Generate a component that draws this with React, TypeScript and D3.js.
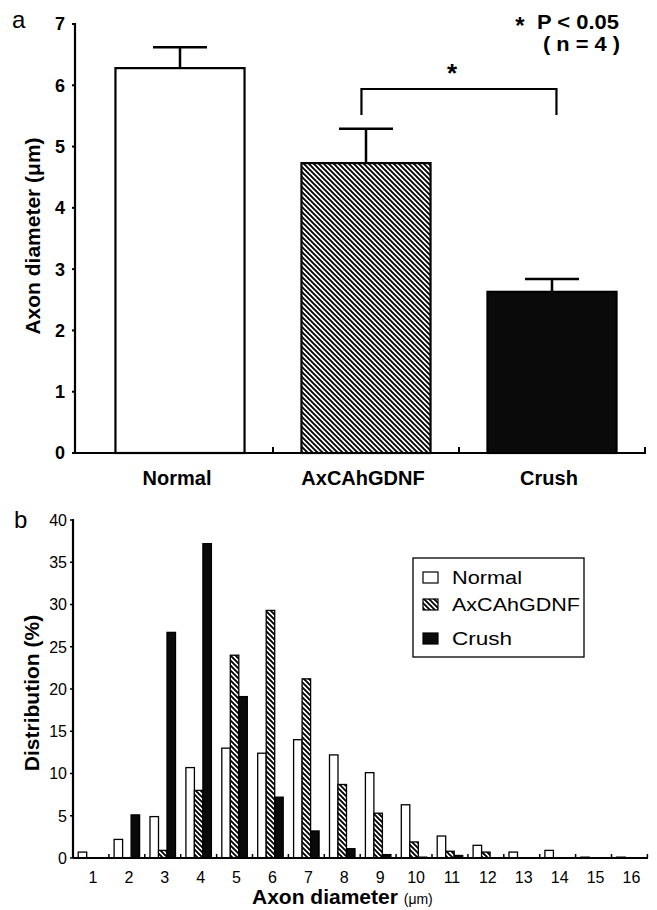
import React from "react";
import * as d3 from "d3";

// ---------- Panel a data ----------
const groupsA = ["Normal", "AxCAhGDNF", "Crush"];
const meansA = [6.28, 4.73, 2.63];
const errA = [0.34, 0.56, 0.21];
const ticksA = [0, 1, 2, 3, 4, 5, 6, 7];

// ---------- Panel b data ----------
const binsB = ["1", "2", "3", "4", "5", "6", "7", "8", "9", "10", "11", "12", "13", "14", "15", "16"];
const seriesB = ["Normal", "AxCAhGDNF", "Crush"];
const normalB = [0.7, 2.2, 4.9, 10.7, 13.0, 12.4, 14.0, 12.2, 10.1, 6.3, 2.6, 1.5, 0.7, 0.9, 0.1, 0.1];
const axcaB = [0, 0, 0.9, 8.0, 24.0, 29.3, 21.2, 8.7, 5.3, 1.9, 0.8, 0.7, 0, 0, 0, 0];
const crushB = [0, 5.1, 26.7, 37.2, 19.1, 7.2, 3.2, 1.1, 0.4, 0.1, 0.3, 0, 0, 0, 0, 0];
const ticksB = [0, 5, 10, 15, 20, 25, 30, 35, 40];

const FONT = "'Liberation Sans', Arial, Helvetica, sans-serif";

function fillFor(i: number) {
  if (i === 0) return "#ffffff";
  if (i === 1) return "url(#hatch)";
  return "#0a0a0a";
}

export default function App() {
  // Panel a scales
  const yA = d3.scaleLinear().domain([0, 7]).range([453, 24]);
  const xA = d3.scaleBand<string>().domain(groupsA).range([87, 645]).paddingInner(0.306).paddingOuter(0.153);
  const axisA = { x0: 75, x1: 646 };

  // Panel b scales
  const yB = d3.scaleLinear().domain([0, 40]).range([858, 520]);
  const xB = d3.scaleBand<string>().domain(binsB).range([73, 647.4]);
  const xB1 = d3.scaleBand<string>().domain(seriesB).range([0, xB.step()]).paddingInner(0).paddingOuter(0.612);
  const dataB = [normalB, axcaB, crushB];

  return (
    <svg width={657} height={910} style={{ position: "absolute", left: 0, top: 0, background: "#fff" }} fontFamily={FONT}>
      <defs>
        <pattern id="hatch" patternUnits="userSpaceOnUse" width={5} height={5}>
          <rect width={5} height={5} fill="#fff" />
          <path d="M-1,-1 L6,6 M-1,4 L1,6 M4,-1 L6,1" stroke="#000" strokeWidth={1.9} />
        </pattern>
      </defs>

      {/* ---------------- Panel a ---------------- */}
      <text x={12} y={28} fontSize={24}>a</text>

      {/* bars */}
      {groupsA.map((g, i) => (
        <rect key={g} x={xA(g)} y={yA(meansA[i])} width={xA.bandwidth()} height={yA(0) - yA(meansA[i])}
          fill={fillFor(i)} stroke="#000" strokeWidth={2.2} />
      ))}
      {/* error bars */}
      {groupsA.map((g, i) => {
        const cx = (xA(g) as number) + xA.bandwidth() / 2;
        return (
          <g key={g + "e"} stroke="#000" strokeWidth={2.5}>
            <line x1={cx} x2={cx} y1={yA(meansA[i])} y2={yA(meansA[i] + errA[i])} />
            <line x1={cx - 27} x2={cx + 27} y1={yA(meansA[i] + errA[i])} y2={yA(meansA[i] + errA[i])} />
          </g>
        );
      })}
      {/* axes */}
      <line x1={axisA.x0} x2={axisA.x0} y1={yA(7) - 1} y2={yA(0)} stroke="#000" strokeWidth={2.2} />
      <line x1={axisA.x0} x2={axisA.x1} y1={yA(0)} y2={yA(0)} stroke="#000" strokeWidth={2.2} />
      {ticksA.map((t) => (
        <g key={"ta" + t}>
          <line x1={axisA.x0 - 3} x2={axisA.x0} y1={yA(t)} y2={yA(t)} stroke="#000" strokeWidth={2} />
          <text x={65} y={yA(t)} dy="0.36em" textAnchor="end" fontSize={18} fontWeight="bold">{t}</text>
        </g>
      ))}
      {groupsA.map((g) => (
        <line key={"xt" + g} x1={(xA(g) as number) + xA.step() - (xA.step() - xA.bandwidth()) / 2}
          x2={(xA(g) as number) + xA.step() - (xA.step() - xA.bandwidth()) / 2}
          y1={yA(0)} y2={yA(0) - 6} stroke="#000" strokeWidth={2} />
      ))}
      {groupsA.map((g) => (
        <text key={"xl" + g} x={(xA(g) as number) + xA.bandwidth() / 2 - 3} y={485} textAnchor="middle"
          fontSize={20} fontWeight="bold">{g}</text>
      ))}
      <text transform="translate(40,236) rotate(-90)" textAnchor="middle" fontSize={21} fontWeight="bold">
        Axon diameter (μm)
      </text>

      {/* significance bracket */}
      <g stroke="#000" strokeWidth={2.2} fill="none">
        <path d={`M${(xA("AxCAhGDNF") as number) + 60},115 V89 H${(xA("Crush") as number) + 69} V115`} />
      </g>
      <text x={452} y={82} textAnchor="middle" fontSize={26} fontWeight="bold">*</text>
      <text x={520} y={34} textAnchor="middle" fontSize={24} fontWeight="bold">*</text>
      <text x={537} y={29} fontSize={20} fontWeight="bold" textLength={82} lengthAdjust="spacingAndGlyphs">P &lt; 0.05</text>
      <text x={543} y={51} fontSize={20} fontWeight="bold" textLength={77} lengthAdjust="spacingAndGlyphs">( n = 4 )</text>

      {/* ---------------- Panel b ---------------- */}
      <text x={14} y={528} fontSize={24}>b</text>

      {dataB.map((vals, si) =>
        binsB.map((b, bi) => {
          const v = vals[bi];
          if (v <= 0) return null;
          return (
            <rect key={si + "-" + b} x={(xB(b) as number) + (xB1(seriesB[si]) as number)} y={yB(v)}
              width={xB1.bandwidth()} height={yB(0) - yB(v)} fill={fillFor(si)} stroke="#000" strokeWidth={1.3} />
          );
        })
      )}

      <line x1={73} x2={73} y1={yB(40) - 1} y2={yB(0)} stroke="#000" strokeWidth={2.2} />
      <line x1={73} x2={648} y1={yB(0)} y2={yB(0)} stroke="#000" strokeWidth={2.2} />
      {ticksB.map((t) => (
        <g key={"tb" + t}>
          <line x1={70} x2={73} y1={yB(t)} y2={yB(t)} stroke="#000" strokeWidth={1.5} />
          <text x={67} y={yB(t)} dy="0.36em" textAnchor="end" fontSize={16} fontWeight="500">{t}</text>
        </g>
      ))}
      {binsB.map((b) => (
        <line key={"bt" + b} x1={(xB(b) as number) + xB.step()} x2={(xB(b) as number) + xB.step()}
          y1={yB(0)} y2={yB(0) - 4} stroke="#000" strokeWidth={1.5} />
      ))}
      {binsB.map((b) => (
        <text key={"bl" + b} x={(xB(b) as number) + xB.step() / 2 + 2} y={883} textAnchor="middle" fontSize={16}>{b}</text>
      ))}
      <text x={252} y={904} fontSize={21} fontWeight="bold">
        Axon diameter <tspan fontSize={14} fontWeight="normal">(μm)</tspan>
      </text>
      <text transform="translate(39,693) rotate(-90)" textAnchor="middle" fontSize={21} fontWeight="bold">
        Distribution (%)
      </text>

      {/* legend */}
      <rect x={413} y={558} width={171} height={99} fill="#fff" stroke="#000" strokeWidth={1.3} />
      {seriesB.map((s, i) => {
        const cy = [578, 605, 639][i];
        return (
          <g key={"lg" + s}>
            <rect x={423} y={cy - 6} width={15} height={11} fill={fillFor(i)} stroke="#000" strokeWidth={1.2} />
            <text x={452} y={cy} dy="0.36em" fontSize={18}
              textLength={[70, 128, 60][i]} lengthAdjust="spacingAndGlyphs">{s}</text>
          </g>
        );
      })}
    </svg>
  );
}
